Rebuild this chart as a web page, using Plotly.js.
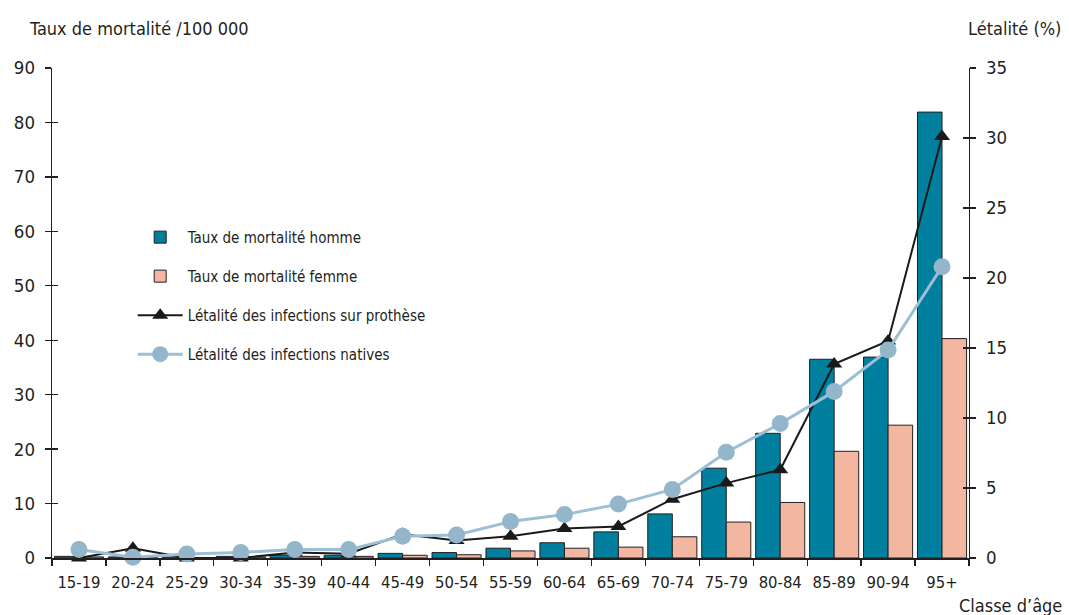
<!DOCTYPE html>
<html>
<head>
<meta charset="utf-8">
<script src="https://cdn.plot.ly/plotly-3.0.1.min.js"></script>
<style>
html,body{margin:0;padding:0;background:#fff;}
#chart{width:1069px;height:615px;}
</style>
</head>
<body>
<div id="chart"></div>
<script>
const ageClasses = ["15-19","20-24","25-29","30-34","35-39","40-44","45-49","50-54","55-59","60-64","65-69","70-74","75-79","80-84","85-89","90-94","95+"];
const mortaliteHomme = [0.3,0.2,0.2,0.3,0.5,0.5,0.85,1.0,1.8,2.8,4.8,8.1,16.5,22.9,36.5,36.9,81.9];
const mortaliteFemme = [0.2,0.1,0.1,0.2,0.3,0.3,0.5,0.6,1.3,1.8,2.0,3.9,6.6,10.2,19.6,24.4,40.3];
const letaliteProthese = [0,0.7,0,0,0.4,0.3,1.7,1.25,1.55,2.1,2.25,4.2,5.35,6.3,13.85,15.5,30.1];
const letaliteNatives = [0.6,0.05,0.28,0.4,0.6,0.6,1.55,1.65,2.6,3.1,3.85,4.9,7.55,9.6,11.9,14.85,20.8];

const FONT = "'DejaVu Sans Condensed', Roboto, sans-serif";
const TXT = "#231f20";

const traces = [
  {type:"bar", name:"Taux de mortalité homme", x:ageClasses, y:mortaliteHomme, legendgroup:"a",
   marker:{color:"#00809e", line:{color:"#231f20", width:1}}},
  {type:"bar", name:"Taux de mortalité femme", x:ageClasses, y:mortaliteFemme, legendgroup:"b",
   marker:{color:"#f3b6a0", line:{color:"#231f20", width:1}}},
  {type:"scatter", mode:"lines+markers", name:"Létalité des infections sur prothèse", x:ageClasses, y:letaliteProthese,
   yaxis:"y2", legendgroup:"c", cliponaxis:false,
   line:{color:"#1a1a1a", width:2}, marker:{symbol:"triangle-up", size:14, color:"#1a1a1a"}},
  {type:"scatter", mode:"lines+markers", name:"Létalité des infections natives", x:ageClasses, y:letaliteNatives,
   yaxis:"y2", legendgroup:"d", cliponaxis:false,
   line:{color:"#9dbfd3", width:3}, marker:{symbol:"circle", size:17, color:"#93b6cb"}}
];

const layout = {
  width:1069, height:615,
  margin:{l:52, r:100, t:68, b:57},
  paper_bgcolor:"#fff", plot_bgcolor:"rgba(0,0,0,0)",
  font:{family:FONT, color:TXT, size:17},
  barmode:"group", bargap:0.09, bargroupgap:0,
  showlegend:true,
  legend:{x:0.088, y:0.688, xanchor:"left", yanchor:"top", bgcolor:"rgba(0,0,0,0)",
    font:{family:FONT, size:15, color:TXT}, tracegroupgap:16.5, traceorder:"grouped", itemwidth:45},
  xaxis:{type:"category", range:[-0.5,16.5], tickson:"boundaries", ticks:"outside", ticklen:6, tickangle:0,
    tickcolor:"#231f20", tickwidth:1.3, showline:true, linecolor:"#231f20", linewidth:2,
    showgrid:false, zeroline:false, tickfont:{family:FONT, size:16.5, color:TXT}, ticklabelstandoff:8, fixedrange:true},
  yaxis:{range:[0,90], dtick:10, ticks:"outside", ticklen:6, tickwidth:1.3, tickcolor:"#231f20",
    showline:true, linecolor:"#231f20", linewidth:1.3, showgrid:false, zeroline:false,
    tickfont:{family:FONT, size:18.5, color:TXT}, ticklabelstandoff:6},
  yaxis3:{range:[0,90], dtick:10, ticks:"inside", ticklen:6, tickwidth:1.3, tickcolor:"#231f20",
    overlaying:"y", side:"left", showticklabels:false, showline:false, showgrid:false, zeroline:false},
  yaxis2:{range:[0,35], dtick:5, overlaying:"y", side:"right", ticks:"outside", ticklen:6, tickwidth:1.3,
    tickcolor:"#231f20", showline:true, linecolor:"#231f20", linewidth:1.3, showgrid:false, zeroline:false,
    tickfont:{family:FONT, size:18.5, color:TXT}, ticklabelstandoff:6},
  yaxis4:{range:[0,35], dtick:5, overlaying:"y", side:"right", ticks:"inside", ticklen:6, tickwidth:1.3,
    tickcolor:"#231f20", showticklabels:false, showline:false, showgrid:false, zeroline:false},
  annotations:[
    {text:"Taux de mortalité /100 000", xref:"paper", yref:"paper", x:-0.027, y:1.056, xanchor:"left", yanchor:"bottom",
     showarrow:false, font:{family:FONT, size:18, color:TXT}},
    {text:"Létalité (%)", xref:"paper", yref:"paper", x:1.103, y:1.056, xanchor:"right", yanchor:"bottom",
     showarrow:false, font:{family:FONT, size:18, color:TXT}},
    {text:"Classe d’âge", xref:"paper", yref:"paper", x:1.104, y:-0.072, xanchor:"right", yanchor:"top",
     showarrow:false, font:{family:FONT, size:18, color:TXT}}
  ]
};

// invisible helper traces so the inside-tick axes are drawn
traces.push({type:"scatter", x:[ageClasses[0]], y:[0], yaxis:"y3", mode:"none", showlegend:false, hoverinfo:"skip"});
traces.push({type:"scatter", x:[ageClasses[0]], y:[0], yaxis:"y4", mode:"none", showlegend:false, hoverinfo:"skip"});

Plotly.newPlot("chart", traces, layout, {displayModeBar:false, staticPlot:true});
</script>
</body>
</html>
